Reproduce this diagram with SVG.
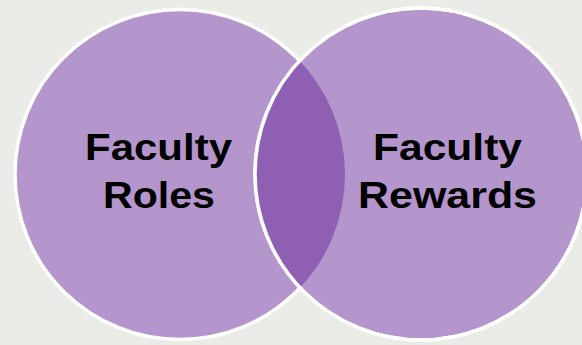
<svg xmlns="http://www.w3.org/2000/svg" width="582" height="345" viewBox="0 0 582 345">
  <style>
    .circle { fill: #b496cd; stroke: #ffffff; stroke-width: 3.5; }
    .outline { fill: none; stroke: #ffffff; stroke-width: 3.5; }
    .lens { fill: #8f5fb3; }
    .label { font-family: "Liberation Sans", Arial, sans-serif; font-weight: bold; font-size: 36px; fill: #000000; text-anchor: middle; }
  </style>
  <defs>
    <clipPath id="clipLeft">
      <circle cx="180" cy="174.5" r="165"/>
    </clipPath>
  </defs>
  <rect width="582" height="345" fill="#ebebe7"/>
  <g id="roles">
    <circle class="circle" cx="180" cy="174.5" r="165"/>
  </g>
  <g id="rewards">
    <circle class="circle" cx="421" cy="174" r="166"/>
  </g>
  <g id="overlap">
    <!-- shared area: right circle clipped to the left one -->
    <circle class="lens" cx="421" cy="174" r="166" clip-path="url(#clipLeft)"/>
    <!-- right circle outline stays on top of the shared area -->
    <circle class="outline" cx="421" cy="174" r="166"/>
  </g>
  <g id="roles-label">
    <text class="label" x="158.5" y="160" textLength="147" lengthAdjust="spacingAndGlyphs">Faculty</text>
    <text class="label" x="159" y="208" textLength="112" lengthAdjust="spacingAndGlyphs">Roles</text>
  </g>
  <g id="rewards-label">
    <text class="label" x="447.5" y="160" textLength="149" lengthAdjust="spacingAndGlyphs">Faculty</text>
    <text class="label" x="447.5" y="208" textLength="179" lengthAdjust="spacingAndGlyphs">Rewards</text>
  </g>
</svg>
